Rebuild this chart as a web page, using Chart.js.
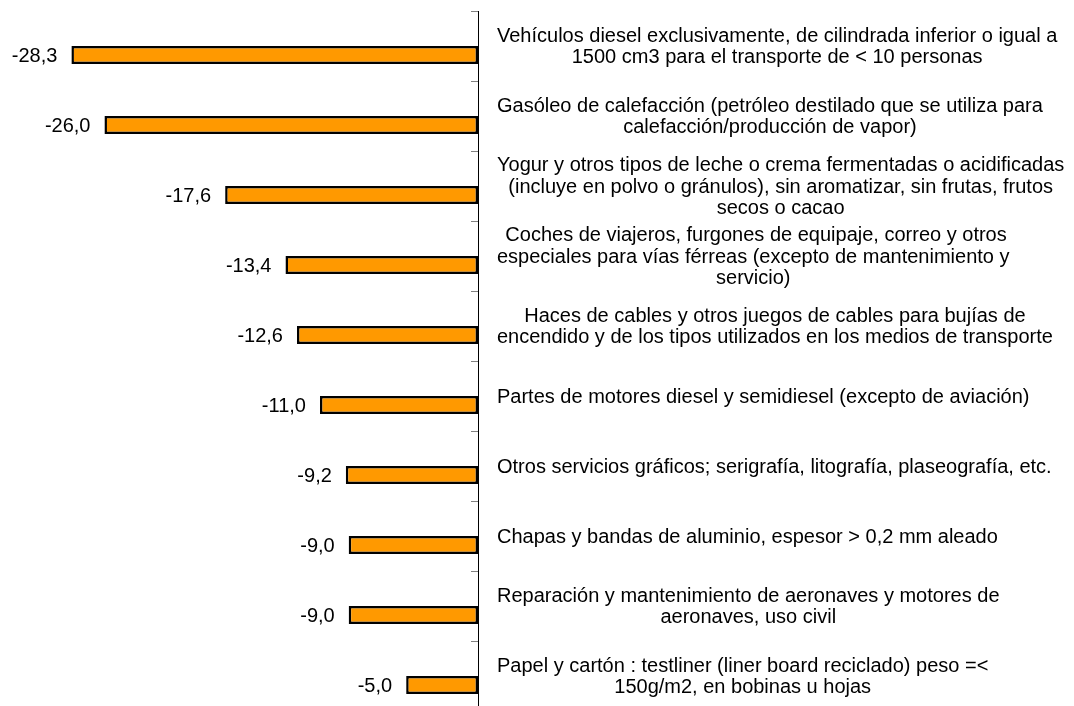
<!DOCTYPE html>
<html>
<head>
<meta charset="utf-8">
<script src="https://cdn.jsdelivr.net/npm/chart.js@4.4.0/dist/chart.umd.min.js"></script>
<style>
  html, body { margin: 0; padding: 0; background: #fff; overflow: hidden; }
  #wrap { position: relative; width: 1074px; height: 711px; }
</style>
</head>
<body>
<div id="wrap"><canvas id="c"></canvas></div>
<script>
const categories = [
  ["Vehículos diesel exclusivamente, de cilindrada inferior o igual a", "1500 cm3 para el transporte de < 10 personas"],
  ["Gasóleo de calefacción (petróleo destilado que se utiliza para", "calefacción/producción de vapor)"],
  ["Yogur y otros tipos de leche o crema fermentadas o acidificadas", "(incluye en polvo o gránulos), sin aromatizar, sin frutas, frutos", "secos o cacao"],
  [" Coches de viajeros, furgones de equipaje, correo y otros", "especiales para vías férreas (excepto de mantenimiento y", "servicio)"],
  ["Haces de cables y otros juegos de cables para bujías de", "encendido y de los tipos utilizados en los medios de transporte"],
  ["Partes de motores diesel y semidiesel (excepto de aviación)"],
  ["Otros servicios gráficos; serigrafía, litografía, plaseografía, etc."],
  ["Chapas y bandas de aluminio, espesor > 0,2 mm aleado"],
  ["Reparación y mantenimiento de aeronaves y motores de", "aeronaves, uso civil"],
  ["Papel y cartón : testliner (liner board reciclado) peso =<", "150g/m2, en bobinas u hojas"]
];
const values = [-28.3, -26.0, -17.6, -13.4, -12.6, -11.0, -9.2, -9.0, -9.0, -5.0];
const emptySeries = [null, null, null, null, null, null, null, null, null, null];

const FONT = '20px "Liberation Sans", Arial, sans-serif';

const customDraw = {
  id: 'customDraw',
  afterDatasetsDraw(chart) {
    const ctx = chart.ctx;
    const y = chart.scales.y;
    const area = chart.chartArea;
    ctx.save();
    ctx.strokeStyle = '#808080';
    ctx.lineWidth = 1;
    const n = categories.length;
    const step = (area.bottom - area.top) / n;
    for (let i = 0; i <= n; i++) {
      const py = Math.round(area.top + i * step) + 0.5;
      ctx.beginPath();
      ctx.moveTo(area.right - 7, py);
      ctx.lineTo(area.right, py);
      ctx.stroke();
    }
    ctx.strokeStyle = '#000';
    ctx.beginPath();
    ctx.moveTo(Math.round(area.right) + 0.5, area.top);
    ctx.lineTo(Math.round(area.right) + 0.5, area.bottom);
    ctx.stroke();

    ctx.font = FONT;
    ctx.fillStyle = '#000';
    const meta = chart.getDatasetMeta(1);
    ctx.textAlign = 'right';
    ctx.textBaseline = 'middle';
    meta.data.forEach((bar, i) => {
      const txt = values[i].toFixed(1).replace('.', ',');
      ctx.fillText(txt, bar.x - 14, bar.y + 1);
    });
    const lineH = 21.5;
    const left = area.right + 19;
    categories.forEach((lines, i) => {
      const cy = y.getPixelForValue(i);
      let maxW = 0;
      lines.forEach(l => { maxW = Math.max(maxW, ctx.measureText(l).width); });
      const cx = left + maxW / 2;
      ctx.textAlign = 'center';
      const top = cy - (lines.length - 1) * lineH / 2;
      lines.forEach((l, k) => ctx.fillText(l, cx, top + k * lineH + 1));
    });
    ctx.restore();
  }
};

new Chart(document.getElementById('c'), {
  type: 'bar',
  data: {
    labels: categories,
    datasets: [
      { data: emptySeries, backgroundColor: 'rgba(0,0,0,0)' },
      {
        data: values,
        backgroundColor: '#FF9900',
        borderColor: '#000000',
        borderWidth: 2.5,
        borderSkipped: false
      }
    ]
  },
  options: {
    indexAxis: 'y',
    responsive: true,
    maintainAspectRatio: false,
    animation: false,
    categoryPercentage: 36 / 70,
    barPercentage: 1,
    layout: { padding: { left: 47, top: 11, right: 0, bottom: 0 } },
    plugins: { legend: { display: false }, tooltip: { enabled: false } },
    scales: {
      x: { display: false, min: -30, max: 0 },
      y: {
        position: 'right',
        ticks: { display: false },
        grid: { display: false },
        border: { display: false },
        afterFit(scale) { scale.width = 1074 - 478; }
      }
    }
  },
  plugins: [customDraw]
});
</script>
</body>
</html>
